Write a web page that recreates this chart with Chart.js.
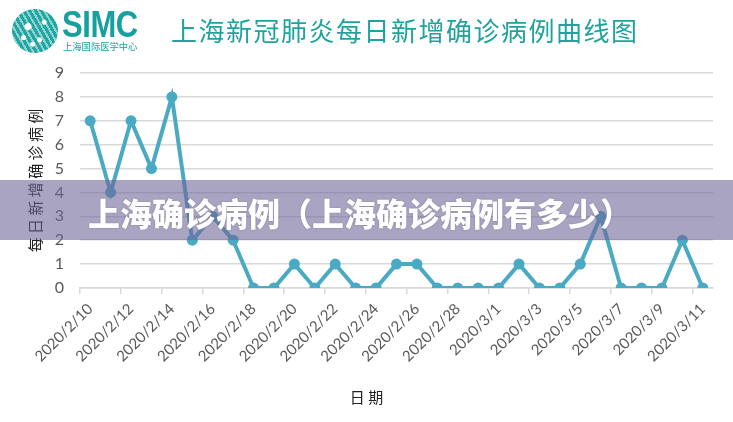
<!DOCTYPE html>
<html>
<head>
<meta charset="utf-8">
<script src="https://cdn.jsdelivr.net/npm/chart.js@4.4.1/dist/chart.umd.min.js"></script>
<style>
  html, body { margin: 0; padding: 0; background: #fff; }
  #wrap { position: relative; width: 733px; height: 422px; overflow: hidden; background: #fff; }
  #c { position: absolute; left: 0; top: 0; }
  .logo-circle { position: absolute; left: 12px; top: 9px; width: 46px; height: 44px; border-radius: 50%;
    background:
      radial-gradient(circle at 35% 40%, #fff 0 3px, transparent 4px),
      radial-gradient(circle at 60% 70%, #fff 0 2px, transparent 3px),
      radial-gradient(circle at 70% 30%, #fff 0 2px, transparent 3px),
      radial-gradient(circle at 45% 80%, #fff 0 2px, transparent 3px),
      radial-gradient(circle at 25% 65%, #fff 0 2px, transparent 3px),
      repeating-linear-gradient(60deg, #21a6a3 0 3px, #8fd3d1 3px 5px);
  }
  .simc { position: absolute; left: 62px; top: 4px; font-family: "Liberation Sans", Arial, sans-serif; font-weight: bold;
    font-size: 36px; color: #17a19e; transform: scaleX(0.86); transform-origin: left top; letter-spacing: -0.5px; }
  .simc-sub { position: absolute; left: 63px; top: 39px; font-family: "Noto Sans CJK SC", sans-serif; font-size: 9.3px; color: #17a19e; white-space: nowrap; }
  .title { position: absolute; left: 171px; top: 13px; font-family: "Noto Sans CJK SC", sans-serif; font-size: 26px; line-height: 34px;
    color: #1fa39d; letter-spacing: 1.5px; white-space: nowrap; }
  .banner { position: absolute; left: 0; top: 180px; width: 733px; height: 60px; background: rgba(108, 98, 152, 0.58); }
  .banner-text { position: absolute; left: 88px; top: 190px; font-family: "Noto Sans CJK SC", sans-serif; font-weight: 900;
    font-size: 32px; line-height: 44px; color: #fff; white-space: nowrap; text-shadow: 0 0 2px rgba(60,50,90,0.35); }
</style>
</head>
<body>
<div id="wrap">
  <canvas id="c" width="733" height="422"></canvas>
  <div class="logo-circle"></div>
  <div class="simc">SIMC</div>
  <div class="simc-sub">上海国际医学中心</div>
  <div class="title">上海新冠肺炎每日新增确诊病例曲线图</div>
  <div class="banner"></div>
  <div class="banner-text">上海确诊病例（上海确诊病例有多少）</div>
</div>
<script>
// ---- data ----
const categories = [
  '2020/2/10','2020/2/11','2020/2/12','2020/2/13','2020/2/14','2020/2/15','2020/2/16','2020/2/17',
  '2020/2/18','2020/2/19','2020/2/20','2020/2/21','2020/2/22','2020/2/23','2020/2/24','2020/2/25',
  '2020/2/26','2020/2/27','2020/2/28','2020/2/29','2020/3/1','2020/3/2','2020/3/3','2020/3/4',
  '2020/3/5','2020/3/6','2020/3/7','2020/3/8','2020/3/9','2020/3/10','2020/3/11'
];
const dailyNewCases = [7,4,7,5,8,2,3,2,0,0,1,0,1,0,0,1,1,0,0,0,0,1,0,0,1,3,0,0,0,2,0];
const yTicks = [0,1,2,3,4,5,6,7,8,9];
const xAxisTitle = '日 期\u3000\u3000\u3000\u3000';
const yAxisTitle = '每 日 新 增 确 诊 病 例';

const lineColor = '#4aaac4';
const gridColor = '#d9d9d9';
const tickColor = '#595959';

new Chart(document.getElementById('c'), {
  type: 'line',
  data: {
    labels: categories,
    datasets: [{
      data: dailyNewCases,
      borderColor: lineColor,
      backgroundColor: lineColor,
      borderWidth: 4,
      pointRadius: 5.5,
      pointBackgroundColor: lineColor,
      pointBorderWidth: 0,
      tension: 0,
      fill: false
    }]
  },
  options: {
    responsive: false,
    animation: false,
    devicePixelRatio: 1,
    layout: { padding: { top: 73, right: 20, left: 0, bottom: 0 } },
    plugins: { legend: { display: false }, tooltip: { enabled: false } },
    scales: {
      x: {
        offset: true,
        grid: {
          offset: true,
          drawOnChartArea: false,
          drawTicks: true,
          tickLength: 6,
          lineWidth: 1.5,
          color: ctx => (ctx.index % 2 === 0 ? gridColor : 'rgba(0,0,0,0)')
        },
        border: { display: true, color: gridColor, width: 1.5 },
        ticks: {
          autoSkip: false,
          maxRotation: 45,
          minRotation: 45,
          padding: 6,
          color: tickColor,
          font: { family: 'Lato', size: 15 },
          callback: function (val, i) { return i % 2 === 0 ? this.getLabelForValue(val) : ''; }
        },
        title: {
          display: true,
          text: xAxisTitle,
          color: '#222',
          font: { family: '"Noto Sans CJK SC"', size: 15 },
          padding: { top: 0, bottom: 16 }
        },
        afterFit: s => { s.height = 134; }
      },
      y: {
        min: 0,
        max: 9,
        afterBuildTicks: s => { s.ticks = yTicks.map(v => ({ value: v })); },
        grid: { color: gridColor, lineWidth: 1.5, drawTicks: false },
        border: { display: false },
        ticks: {
          padding: 16,
          color: tickColor,
          font: { family: 'Lato', size: 16 }
        },
        title: {
          display: true,
          text: yAxisTitle,
          color: '#222',
          font: { family: '"Noto Sans CJK SC"', size: 15 },
          padding: { top: 26, bottom: 0 }
        },
        afterFit: s => { s.width = 80; }
      }
    }
  }
});
</script>
</body>
</html>
